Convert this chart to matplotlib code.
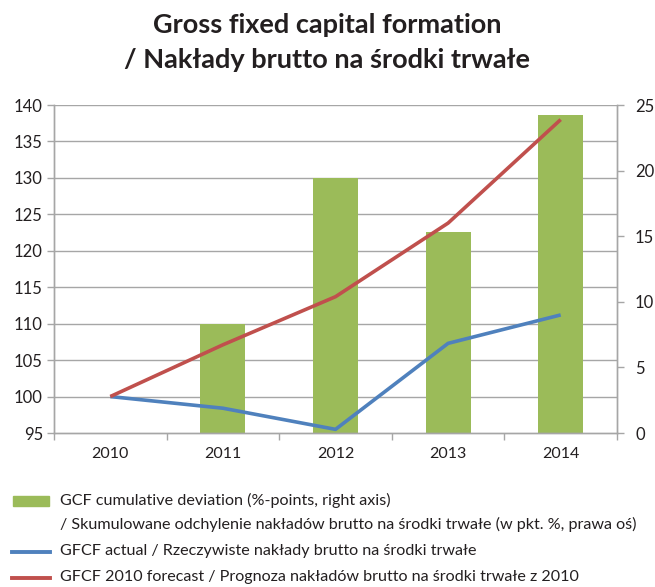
import matplotlib
matplotlib.use("Agg")
import matplotlib.pyplot as plt
from matplotlib.lines import Line2D
from matplotlib.patches import Rectangle
from matplotlib.ticker import FixedLocator

plt.rcParams['font.family'] = ['Lato', 'DejaVu Sans']

years = ["2010", "2011", "2012", "2013", "2014"]
deviation = [0.0, 8.3, 19.4, 15.3, 24.2]       # %-points, right axis
actual = [100.0, 98.4, 95.5, 107.3, 111.2]     # index 2010 = 100
forecast = [100.0, 107.1, 113.7, 123.8, 138.0]  # index 2010 = 100

left_ticks = [95, 100, 105, 110, 115, 120, 125, 130, 135, 140]
right_ticks = [0, 5, 10, 15, 20, 25]

GREEN = "#9BBB59"
BLUE = "#4F81BD"
RED = "#C0504D"
GRID = "#A6A6A6"
TEXT = "#231F20"

fig = plt.figure(figsize=(6.55, 5.87), dpi=100)
W, H = 655, 587
ax = fig.add_axes([54 / W, 1 - 433 / H, (617 - 54) / W, (433 - 105) / H])
ax2 = ax.twinx()

x = list(range(len(years)))

# bars on the secondary axis, lines on the primary axis drawn above them
ax2.bar(x, deviation, width=0.4, color=GREEN, zorder=1)
ax2.set_ylim(0, 25)
ax2.set_yticks(right_ticks)
ax.set_zorder(ax2.get_zorder() + 1)
ax.patch.set_visible(False)

ax.plot(x, actual, color=BLUE, lw=2.6, solid_capstyle='butt', zorder=3)
ax.plot(x, forecast, color=RED, lw=2.6, solid_capstyle='butt', zorder=3)
ax.set_ylim(95, 140)
ax.set_yticks(left_ticks)
ax.set_xlim(-0.5, len(years) - 0.5)
ax.set_xticks(x)
ax.set_xticklabels(years)
ax.xaxis.set_minor_locator(FixedLocator([i - 0.5 for i in range(len(years) + 1)]))
ax.tick_params(axis='x', which='major', length=0, pad=10, labelsize=11.5, labelcolor=TEXT)
ax.tick_params(axis='x', which='minor', length=5, color=GRID, width=1)
ax.tick_params(axis='y', length=5, color=GRID, width=1, labelsize=12, labelcolor=TEXT, pad=3)
ax2.tick_params(axis='y', length=5, color=GRID, width=1, labelsize=12, labelcolor=TEXT, pad=8)

# horizontal gridlines at the left-axis ticks, placed in the bar layer so bars cover them
for t in left_ticks[1:]:
    ax2.add_line(Line2D([0, 1], [t, t], transform=ax.get_yaxis_transform(),
                        color=GRID, lw=1, zorder=0.5))

for a in (ax, ax2):
    for s in a.spines.values():
        s.set_color(GRID)
        s.set_linewidth(1)
    a.spines['top'].set_visible(False)

fig.text(0.5, 1 - 25 / H, "Gross fixed capital formation", ha='center', va='center',
         fontsize=19.5, fontweight='bold', color=TEXT)
fig.text(0.5, 1 - 60 / H, "/ Nakłady brutto na środki trwałe", ha='center', va='center',
         fontsize=19.5, fontweight='bold', color=TEXT)

# legend
fig.patches.append(Rectangle((13 / W, 1 - 506 / H), 36 / W, 10 / H, transform=fig.transFigure,
                             color=GREEN))
fig.lines.append(Line2D([12 / W, 50 / W], [1 - 552 / H] * 2, transform=fig.transFigure,
                        color=BLUE, lw=2.8))
fig.lines.append(Line2D([12 / W, 50 / W], [1 - 578 / H] * 2, transform=fig.transFigure,
                        color=RED, lw=2.8))
legend_rows = [
    (500, "GCF cumulative deviation (%-points, right axis)"),
    (524, "/ Skumulowane odchylenie nakładów brutto na środki trwałe (w pkt. %, prawa oś)"),
    (551, "GFCF actual / Rzeczywiste nakłady brutto na środki trwałe"),
    (577, "GFCF 2010 forecast / Prognoza nakładów brutto na środki trwałe z 2010"),
]
for y, label in legend_rows:
    fig.text(60 / W, 1 - y / H, label, ha='left', va='center', fontsize=11.6, color=TEXT)

fig.savefig("out.png", dpi=100)
